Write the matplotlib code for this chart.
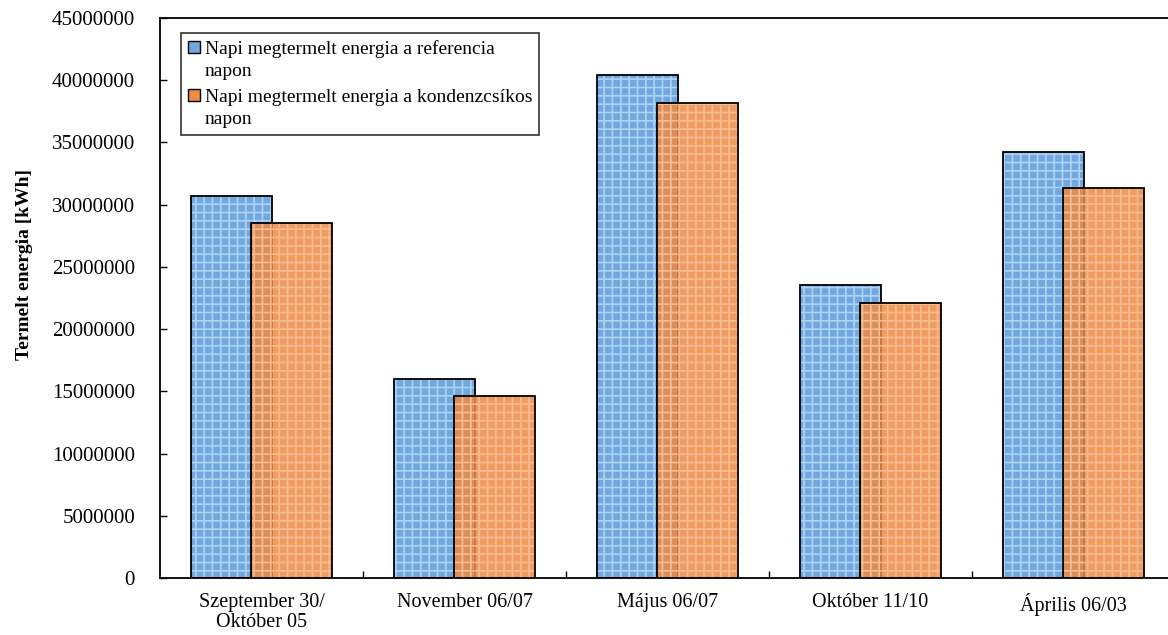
import numpy as np
import matplotlib.pyplot as plt
from matplotlib.patches import Patch, Rectangle
from matplotlib.legend_handler import HandlerBase

# Daily produced energy per date pair
categories = ["Szeptember 30/\nOktóber 05", "November 06/07", "Május 06/07",
              "Október 11/10", "Április 06/03"]
reference_day = [30700000, 16000000, 40400000, 23500000, 34200000]
condensation_day = [28500000, 14600000, 38200000, 22100000, 31300000]

series_labels = ["Napi megtermelt energia a referencia\nnapon",
                 "Napi megtermelt energia a kondenzcsíkos\nnapon"]

plt.rcParams['font.family'] = ['Liberation Serif', 'DejaVu Serif']
plt.rcParams['hatch.linewidth'] = 1.2

blue, blue_hatch = '#70a8df', '#b0d2f2'
orange, orange_hatch = '#ee8a44', '#f7c199'


class TopSquare(HandlerBase):
    # legend square placed next to the first line of a wrapped label
    def create_artists(self, legend, orig_handle, xdescent, ydescent,
                       width, height, fontsize, trans):
        r = Rectangle((-xdescent, -ydescent + 0.65 * fontsize), width, height,
                      facecolor=orig_handle.get_facecolor(), edgecolor='black',
                      linewidth=1, transform=trans)
        return [r]


fig = plt.figure(figsize=(11.68, 6.35), dpi=100)
ax = fig.add_axes([0.137, 0.0898, 0.869, 0.882])

x = np.arange(len(categories))
w = 0.40
off = 0.147

# filled bars with light grid pattern, then black outlines on top
ax.bar(x - off, reference_day, w, color=blue, edgecolor=blue_hatch, hatch='++',
       linewidth=0, zorder=2)
ax.bar(x - off, reference_day, w, fill=False, edgecolor='black', linewidth=1.3, zorder=3)
ax.bar(x + off, condensation_day, w, color=orange, edgecolor=orange_hatch, hatch='++',
       linewidth=0, alpha=0.85, zorder=4)
ax.bar(x + off, condensation_day, w, fill=False, edgecolor='black', linewidth=1.3, zorder=5)

ax.set_xlim(-0.5, len(categories) - 0.5)
ax.set_ylim(0, 45000000)
ax.set_yticks(np.arange(0, 45000001, 5000000))
ax.set_yticklabels([f"{int(v)}" for v in np.arange(0, 45000001, 5000000)])
ax.set_xticks(x)
ax.set_xticklabels(categories, linespacing=1.05)
ax.set_xticks(np.arange(len(categories)) + 0.5, minor=True)
ax.tick_params(axis='x', which='major', length=0, labelsize=14.5, pad=11)
ax.tick_params(axis='x', which='minor', direction='in', length=5, width=1)
ax.tick_params(axis='y', direction='in', length=5, width=1, labelsize=15, pad=18)

for s in ax.spines.values():
    s.set_linewidth(1.3)

ax.set_ylabel("Termelt energia [kWh]", fontsize=14, fontweight='bold')
ax.yaxis.set_label_coords(-0.125, 0.56)

handles = [Patch(facecolor=blue), Patch(facecolor=orange)]
leg = ax.legend(handles, series_labels, loc='upper left', bbox_to_anchor=(0.021, 0.973),
                fontsize=14, frameon=True, fancybox=False, edgecolor='black',
                handler_map={Patch: TopSquare()},
                handlelength=0.6, handleheight=0.6, handletextpad=0.25,
                borderpad=0.35, labelspacing=0.45, borderaxespad=0)
leg.get_frame().set_linewidth(1.2)
for t in leg.get_texts():
    t.set_linespacing(1.4)

fig.savefig("out.png", dpi=100)
